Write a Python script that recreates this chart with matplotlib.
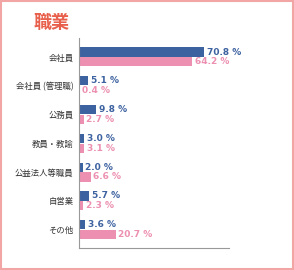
import matplotlib.pyplot as plt
from matplotlib.patches import Rectangle
import numpy as np

plt.rcParams['font.family'] = ['Noto Sans CJK JP', 'DejaVu Sans']

categories = ['会社員', '会社員 (管理職)', '公務員', '教員・教諭', '公益法人等職員', '自営業', 'その他']
blue_values = [70.8, 5.1, 9.8, 3.0, 2.0, 5.7, 3.6]
pink_values = [64.2, 0.4, 2.7, 3.1, 6.6, 2.3, 20.7]

blue = '#3d62a0'
pink = '#ec8fb0'

fig = plt.figure(figsize=(2.94, 2.70), dpi=100)
fig.patches.append(Rectangle((0.003, 0.004), 0.994, 0.992, transform=fig.transFigure,
                             fill=False, edgecolor='#f2a5a5', linewidth=1.5))
fig.text(34 / 294, 1 - 22 / 270, '職業', color='#e8604c', fontsize=13,
         fontweight='bold', va='center', ha='left')

ax = fig.add_axes([79 / 294, 22 / 270, 150 / 294, 210 / 270])
y = np.arange(len(categories))
h = 0.32
ax.barh(y - 0.17, blue_values, height=h, color=blue)
ax.barh(y + 0.17, pink_values, height=h, color=pink)

for yi, bv, pv in zip(y, blue_values, pink_values):
    ax.text(bv + 1.5, yi - 0.17, f'{bv:.1f} %', color=blue, fontsize=6.5,
            fontweight='bold', va='center', family='DejaVu Sans')
    ax.text(pv + 1.5, yi + 0.17, f'{pv:.1f} %', color=pink, fontsize=6.5,
            fontweight='bold', va='center', family='DejaVu Sans')

ax.set_xlim(0, 85)
ax.set_ylim(6.64, -0.66)
ax.set_yticks(y)
ax.set_yticklabels(categories, fontsize=6, color='#333333')
ax.set_xticks([])
ax.tick_params(axis='y', length=0, pad=4)
for s in ['top', 'right']:
    ax.spines[s].set_visible(False)
for s in ['left', 'bottom']:
    ax.spines[s].set_color('#999999')
    ax.spines[s].set_linewidth(0.8)

fig.savefig('out.png', dpi=100)
